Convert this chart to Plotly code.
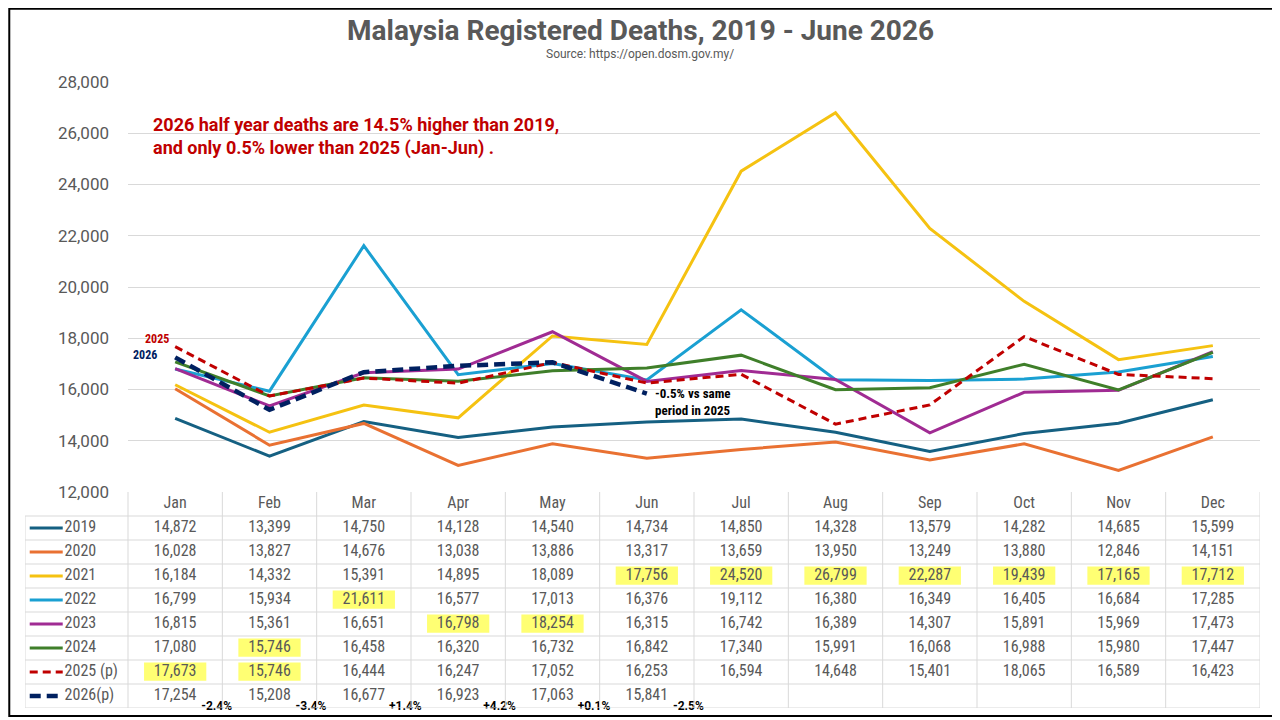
import plotly.graph_objects as go

months = ['Jan', 'Feb', 'Mar', 'Apr', 'May', 'Jun', 'Jul', 'Aug', 'Sep', 'Oct', 'Nov', 'Dec']
years = ['2019', '2020', '2021', '2022', '2023', '2024', '2025 (p)', '2026(p)']

deaths_2019 = [14872, 13399, 14750, 14128, 14540, 14734, 14850, 14328, 13579, 14282, 14685, 15599]
deaths_2020 = [16028, 13827, 14676, 13038, 13886, 13317, 13659, 13950, 13249, 13880, 12846, 14151]
deaths_2021 = [16184, 14332, 15391, 14895, 18089, 17756, 24520, 26799, 22287, 19439, 17165, 17712]
deaths_2022 = [16799, 15934, 21611, 16577, 17013, 16376, 19112, 16380, 16349, 16405, 16684, 17285]
deaths_2023 = [16815, 15361, 16651, 16798, 18254, 16315, 16742, 16389, 14307, 15891, 15969, 17473]
deaths_2024 = [17080, 15746, 16458, 16320, 16732, 16842, 17340, 15991, 16068, 16988, 15980, 17447]
deaths_2025 = [17673, 15746, 16444, 16247, 17052, 16253, 16594, 14648, 15401, 18065, 16589, 16423]
deaths_2026 = [17254, 15208, 16677, 16923, 17063, 15841]

# 2026 vs 2025 change labels under the 2026 row
change_labels = ['-2.4%', '-3.4%', '+1.4%', '+4.2%', '+0.1%', '-2.5%']

# cells marked with yellow highlighter: (year, month)
highlighted = [('2021', 'Jun'), ('2021', 'Jul'), ('2021', 'Aug'), ('2021', 'Sep'),
               ('2021', 'Oct'), ('2021', 'Nov'), ('2021', 'Dec'), ('2022', 'Mar'),
               ('2023', 'Apr'), ('2023', 'May'), ('2024', 'Feb'),
               ('2025 (p)', 'Jan'), ('2025 (p)', 'Feb')]

series = [deaths_2019, deaths_2020, deaths_2021, deaths_2022,
          deaths_2023, deaths_2024, deaths_2025, deaths_2026]
colors = ['#156082', '#E97132', '#F5C211', '#1AA0D2', '#A02B93', '#3F7F2A', '#C00000', '#002060']
dashes = ['solid'] * 6 + ['8px,5px', '11px,6px']
widths = [3, 3, 3, 3, 3, 3, 3, 4.5]

W, H = 1280, 720
# the page puts the plot 8px in from the top-left corner, so lay out 8px up/left
PAGE_OFFSET = 8
def px_x(p):
    return (p - PAGE_OFFSET) / W
def px_y(p):
    return 1 - (p - PAGE_OFFSET) / H

GRID = '#D9D9D9'
TXT = '#595959'
NUM_FONT = 'Liberation Sans Narrow, Roboto Condensed, DejaVu Sans Condensed, Roboto'
MAIN_FONT = 'Roboto, Open Sans, sans-serif'

col_w = (1260 - 128) / 12
x_left = -0.5 - (128 - 25) / col_w

fig = go.Figure()

# lines of the chart
for name, vals, c, d, w in zip(years, series, colors, dashes, widths):
    fig.add_trace(go.Scatter(x=list(range(len(vals))), y=vals, mode='lines', name=name,
                             line=dict(color=c, width=w, dash=d),
                             xaxis='x', yaxis='y', showlegend=False))

# data table: header row
fig.add_trace(go.Scatter(x=list(range(12)), y=[0] * 12, text=months, mode='text',
                         textfont=dict(family=NUM_FONT, size=16, color=TXT),
                         xaxis='x2', yaxis='y2', showlegend=False, cliponaxis=False))

# data table: values
for k, vals in enumerate(series):
    fig.add_trace(go.Scatter(x=list(range(len(vals))), y=[k + 1] * len(vals),
                             text=[f'{v:,}' for v in vals], mode='text',
                             textfont=dict(family=NUM_FONT, size=16, color=TXT),
                             xaxis='x2', yaxis='y2', showlegend=False, cliponaxis=False))

# legend column names
fig.add_trace(go.Scatter(x=[x_left + 0.42] * len(years), y=list(range(1, len(years) + 1)),
                         text=years, mode='text', textposition='middle right',
                         textfont=dict(family=NUM_FONT, size=16, color=TXT),
                         xaxis='x2', yaxis='y2', showlegend=False, cliponaxis=False))

# change labels for 2026
fig.add_trace(go.Scatter(x=[i + 0.44 for i in range(len(change_labels))],
                         y=[len(years) + 0.45] * len(change_labels),
                         text=[f'<b>{t}</b>' for t in change_labels], mode='text',
                         textfont=dict(family='Liberation Sans Narrow, Roboto', size=12, color='black'),
                         xaxis='x2', yaxis='y2', showlegend=False, cliponaxis=False))

shapes = []
# highlighter marks
for yr, m in highlighted:
    r = years.index(yr) + 1
    c = months.index(m)
    shapes.append(dict(type='rect', xref='x2', yref='y2', x0=c - 0.33, x1=c + 0.33,
                       y0=r - 0.4, y1=r + 0.36, fillcolor='rgba(255,255,40,0.65)',
                       line=dict(width=0), layer='below'))
# table grid
n_rows = len(years) + 1
for r in range(n_rows):
    shapes.append(dict(type='line', xref='x2', yref='y2', x0=x_left, x1=11.5,
                       y0=r + 0.5, y1=r + 0.5, line=dict(color=GRID, width=1)))
for c in range(13):
    shapes.append(dict(type='line', xref='x2', yref='y2', x0=c - 0.5, x1=c - 0.5,
                       y0=-0.5, y1=n_rows - 0.5, line=dict(color=GRID, width=1)))
shapes.append(dict(type='line', xref='x2', yref='y2', x0=x_left, x1=x_left,
                   y0=0.5, y1=n_rows - 0.5, line=dict(color=GRID, width=1)))
# legend keys
for k, (c, d, w) in enumerate(zip(colors, dashes, widths)):
    shapes.append(dict(type='line', xref='x2', yref='y2', x0=x_left + 0.05, x1=x_left + 0.4,
                       y0=k + 1, y1=k + 1, line=dict(color=c, width=w, dash=d)))
# outer border
shapes.append(dict(type='rect', xref='paper', yref='paper', x0=0.001, x1=px_x(1277),
                   y0=px_y(716), y1=0.999, line=dict(color='black', width=2)))

annotations = [
    dict(text='<b>Malaysia Registered Deaths, 2019 - June 2026</b>', xref='paper', yref='paper',
         x=px_x(640), y=px_y(30), xanchor='center', yanchor='middle', showarrow=False,
         font=dict(family=MAIN_FONT, size=28, color=TXT)),
    dict(text='Source: https://open.dosm.gov.my/', xref='paper', yref='paper',
         x=px_x(640), y=px_y(54), xanchor='center', yanchor='middle', showarrow=False,
         font=dict(family=MAIN_FONT, size=12, color=TXT)),
    dict(text='<b>2026 half year deaths are 14.5% higher than 2019,<br>and only 0.5% lower than 2025 (Jan-Jun) .</b>',
         xref='paper', yref='paper', x=px_x(151), y=px_y(136), xanchor='left', yanchor='middle',
         align='left', showarrow=False, font=dict(family=MAIN_FONT, size=18, color='#C00000')),
    dict(text='<b>2025</b>', xref='x', yref='y', x=0, y=deaths_2025[0], xanchor='right',
         yanchor='middle', xshift=-4, yshift=8, showarrow=False,
         font=dict(family=NUM_FONT, size=12, color='#C00000')),
    dict(text='<b>2026</b>', xref='x', yref='y', x=0, y=deaths_2026[0], xanchor='right',
         yanchor='middle', xshift=-16, yshift=2, showarrow=False,
         font=dict(family=NUM_FONT, size=12, color='#002060')),
    dict(text='<b>-0.5% vs same<br>period in 2025</b>', xref='x', yref='y', x=5, y=deaths_2026[5],
         xanchor='left', yanchor='top', align='left', xshift=6, yshift=10, showarrow=False,
         font=dict(family=NUM_FONT, size=13, color='black')),
]

fig.update_layout(
    template='none',
    width=W, height=H,
    margin=dict(l=0, r=0, t=0, b=0, pad=0),
    paper_bgcolor='white', plot_bgcolor='white',
    xaxis=dict(domain=[px_x(128), px_x(1260)], range=[-0.5, 11.5], visible=False, anchor='y'),
    yaxis=dict(domain=[px_y(492), px_y(82)], range=[12000, 28000], dtick=2000, tickformat=',',
               showgrid=True, gridcolor=GRID, gridwidth=1, zeroline=False, showline=False,
               ticks='', anchor='x', automargin=False,
               tickfont=dict(family=MAIN_FONT, size=17, color=TXT), ticklabelstandoff=18),
    xaxis2=dict(domain=[px_x(25), px_x(1260)], range=[x_left, 11.5], visible=False, anchor='y2'),
    yaxis2=dict(domain=[px_y(708), px_y(492)], range=[n_rows - 0.5, -0.5], visible=False, anchor='x2'),
    shapes=shapes,
    annotations=annotations,
    showlegend=False,
)

fig.write_html("out.html")
